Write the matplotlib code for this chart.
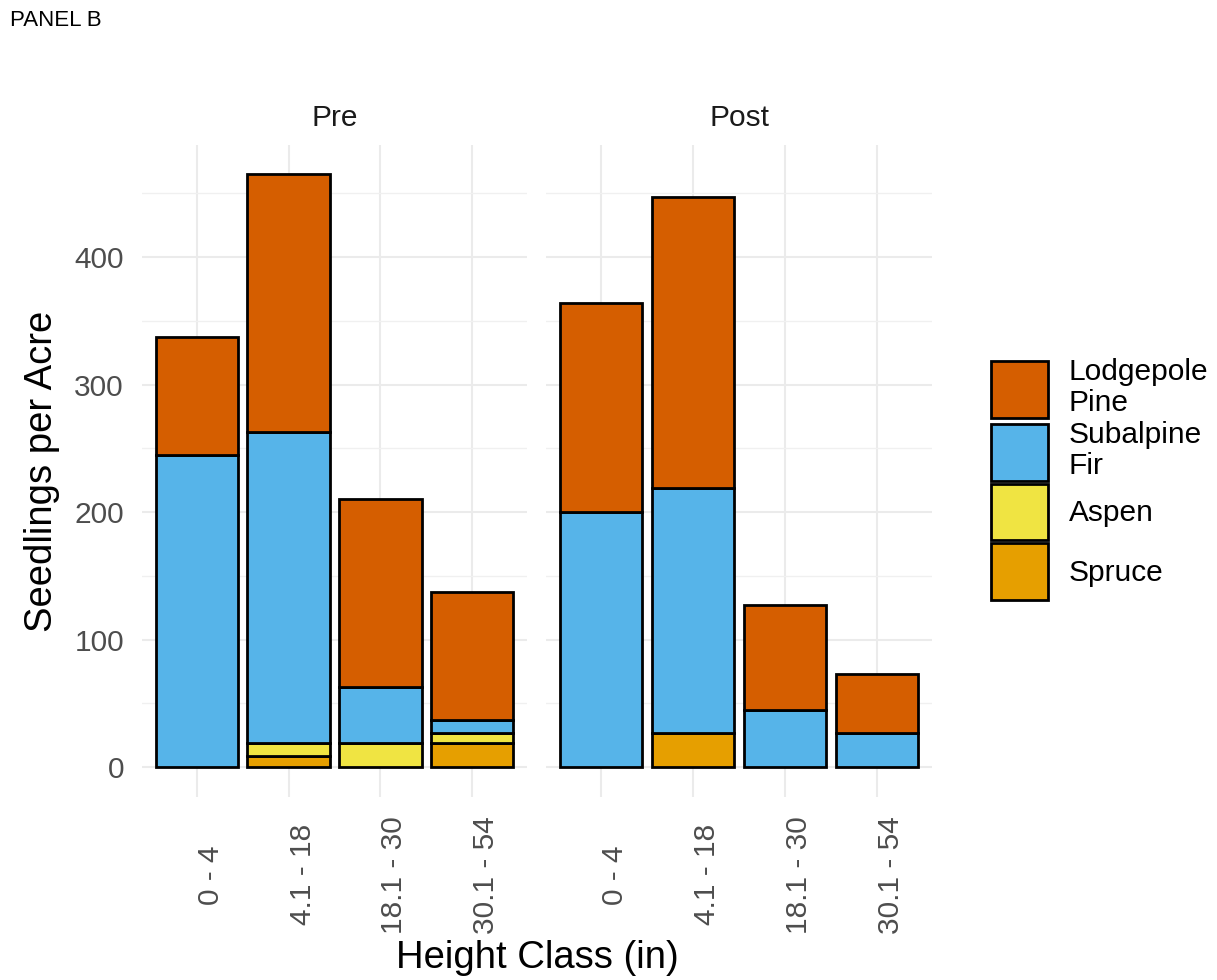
import matplotlib
matplotlib.use("Agg")
import matplotlib.pyplot as plt
from matplotlib.patches import Patch
import numpy as np

plt.rcParams['font.family'] = ['Liberation Sans', 'DejaVu Sans']

# Height classes and periods
height_classes = ['0 - 4', '4.1 - 18', '18.1 - 30', '30.1 - 54']
periods = ['Pre', 'Post']
species = ['Spruce', 'Aspen', 'Subalpine Fir', 'Lodgepole Pine']  # bottom -> top

# Seedlings per acre
pre_spruce = [0, 9, 0, 19]
pre_aspen = [0, 10, 19, 8]
pre_subalpine = [245, 244, 44, 10]
pre_lodgepole = [92, 202, 147, 100]

post_spruce = [0, 27, 0, 0]
post_aspen = [0, 0, 0, 0]
post_subalpine = [200, 192, 45, 27]
post_lodgepole = [164, 228, 82, 46]

colors = {'Lodgepole Pine': '#D55E00', 'Subalpine Fir': '#56B4E9',
          'Aspen': '#F0E442', 'Spruce': '#E69F00'}

data = {
    'Pre': [pre_spruce, pre_aspen, pre_subalpine, pre_lodgepole],
    'Post': [post_spruce, post_aspen, post_subalpine, post_lodgepole],
}

W, H = 1217, 980
fig = plt.figure(figsize=(W / 100, H / 100), dpi=100)

panel_bottom = 1 - 797 / H
panel_height = (797 - 145) / H
panels = {'Pre': (142, 527), 'Post': (546, 932)}

gray_text = '#4D4D4D'
x = np.arange(len(height_classes))

for period in periods:
    x0, x1 = panels[period]
    ax = fig.add_axes([x0 / W, panel_bottom, (x1 - x0) / W, panel_height])
    bottom = np.zeros(len(height_classes))
    for sp, vals in zip(species, data[period]):
        vals = np.array(vals, dtype=float)
        mask = vals > 0
        ax.bar(x[mask], vals[mask], width=0.9, bottom=bottom[mask],
               color=colors[sp], edgecolor='black', linewidth=2.0, zorder=3)
        bottom += vals
    ax.set_xlim(-0.6, 3.6)
    ax.set_ylim(-23.5, 488)
    ax.set_yticks([0, 100, 200, 300, 400])
    ax.set_yticks([50, 150, 250, 350, 450], minor=True)
    ax.set_xticks(x)
    ax.set_xticklabels(height_classes, rotation=90, ha='left', va='center',
                       fontsize=21.5, color=gray_text)
    ax.tick_params(axis='x', length=0, pad=56)
    ax.tick_params(axis='y', which='both', length=0, pad=13,
                   labelsize=21.5, labelcolor=gray_text)
    if period == 'Post':
        ax.tick_params(axis='y', labelleft=False)
    ax.grid(True, which='major', color='#EBEBEB', linewidth=1.5, zorder=0)
    ax.grid(True, which='minor', axis='y', color='#F0F0F0', linewidth=1.0, zorder=0)
    for s in ax.spines.values():
        s.set_visible(False)
    ax.set_axisbelow(True)
    ax.set_title(period, fontsize=21.5, pad=14, color='#1A1A1A')

fig.text(42 / W, 1 - 471 / H, 'Seedlings per Acre', rotation=90,
         ha='center', va='center', fontsize=27.5)
fig.text(537 / W, 1 - 958 / H, 'Height Class (in)',
         ha='center', va='center', fontsize=27.5)
fig.text(10 / W, 1 - 20 / H, 'PANEL B', ha='left', va='center', fontsize=16)

legend_labels = ['Lodgepole\nPine', 'Subalpine\nFir', 'Aspen', 'Spruce']
legend_species = ['Lodgepole Pine', 'Subalpine Fir', 'Aspen', 'Spruce']
handles = [Patch(facecolor=colors[s], edgecolor='black', linewidth=2.0)
           for s in legend_species]
leg = fig.legend(handles, legend_labels, loc='center left',
                 bbox_to_anchor=(991 / W, 1 - 479 / H), frameon=False,
                 fontsize=21.5, handlelength=1.9, handleheight=2.55,
                 labelspacing=0.1, handletextpad=0.7, borderpad=0,
                 borderaxespad=0)
for t in leg.get_texts():
    t.set_linespacing(1.15)

fig.savefig('out.png', dpi=100)
